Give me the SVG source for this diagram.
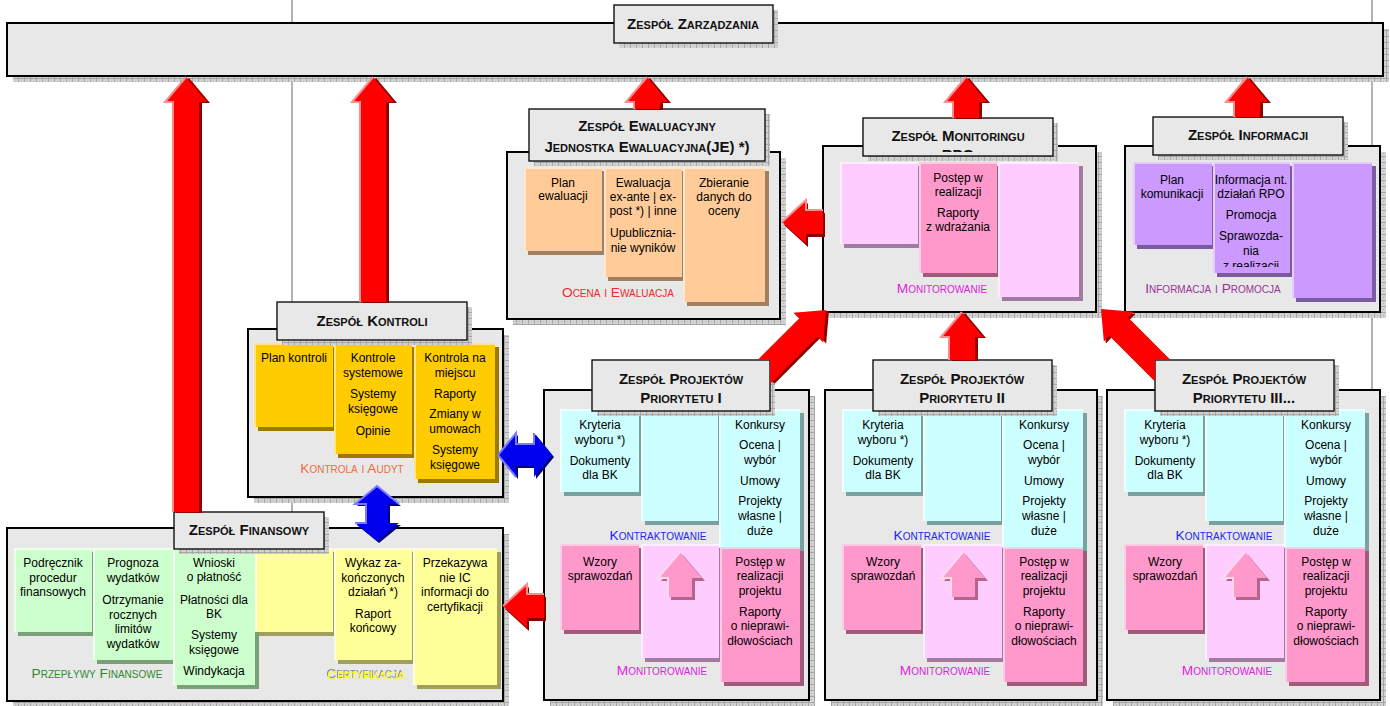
<svg xmlns="http://www.w3.org/2000/svg" xmlns:xlink="http://www.w3.org/1999/xlink" width="1390" height="706" viewBox="0 0 1390 706">
<defs>
<pattern id="chk" width="6" height="6" patternUnits="userSpaceOnUse"><rect width="6" height="6" fill="#d2d2d2"/><rect width="6" height="1" fill="#a6a6a6"/><rect width="1" height="6" fill="#a6a6a6"/><rect x="3" y="3" width="1" height="1" fill="#b4b4b4"/></pattern>
<clipPath id="cRPO"><rect x="864" y="119" width="188" height="33"/></clipPath>
<clipPath id="cI2"><rect x="1213" y="162" width="77" height="105"/></clipPath>
<clipPath id="cD1"><rect x="0" y="0" width="1390" height="360"/><rect x="770" y="0" width="620" height="706"/></clipPath>
<clipPath id="cD3"><rect x="0" y="0" width="1390" height="360"/><rect x="0" y="0" width="1155" height="706"/></clipPath>
<filter id="ghost" x="-10%" y="-40%" width="120%" height="180%"><feFlood flood-color="#8c8c8c"/><feComposite in2="SourceAlpha" operator="in"/><feOffset dx="-1" dy="-2" result="g"/><feMerge><feMergeNode in="g"/><feMergeNode in="SourceGraphic"/></feMerge></filter>
<path id="a1" d="M186 77 L207 102 L199 102 L199 512 L173 512 L173 102 L165 102 Z"/>
<path id="a2" d="M373 77 L394 102 L386 102 L386 302 L360 302 L360 102 L352 102 Z"/>
<path id="a3" d="M647 77 L668 102 L660 102 L660 109 L634 109 L634 102 L626 102 Z"/>
<path id="a4" d="M966 77 L987 102 L979 102 L979 118 L953 118 L953 102 L945 102 Z"/>
<path id="a5" d="M1247 77 L1268 102 L1260 102 L1260 117 L1234 117 L1234 102 L1226 102 Z"/>
<path id="a6" d="M962 312 L983 337 L975 337 L975 360 L949 360 L949 337 L941 337 Z"/>
<path id="a7" d="M782 222 L806 200 L806 210 L823 210 L823 234 L806 234 L806 244 Z"/>
<path id="a8" d="M503 606 L527 584 L527 594 L544 594 L544 618 L527 618 L527 628 Z"/>
<path id="dg" d="M0 0 L21 25 L13 25 L13 90 L-13 90 L-13 25 L-21 25 Z"/>
<path id="b1" d="M498 455 L516 433 L516 444 L534 444 L534 433 L552 455 L534 477 L534 466 L516 466 L516 477 Z"/>
<path id="b2" d="M377 486 L399 504 L388 504 L388 523 L399 523 L377 541 L355 523 L366 523 L366 504 L355 504 Z"/>
</defs>
<style>
.chk{fill:url(#chk)}
.box{fill:#e8e8e8;stroke:#000;stroke-width:2}
.tb{fill:#e8e8e8;stroke:#000;stroke-width:1.3}
.vl{stroke:#999;stroke-width:1.5}
.t{font-family:"Liberation Sans",Arial,sans-serif;font-size:12px;text-anchor:middle;fill:#000}
.h{font-family:"Liberation Sans",Arial,sans-serif;font-size:15px;font-weight:bold;font-variant:small-caps;text-anchor:middle;fill:#111}
.l{font-family:"Liberation Sans",Arial,sans-serif;font-size:13.7px;font-variant:small-caps;text-anchor:middle}
.ys{fill:#9c7a00}.yh{fill:#ffe680}.ym{fill:#ffcc00}
.os{fill:#a08060}.oh{fill:#ffe6cc}.om{fill:#ffcc99}
.ls{fill:#a07aa0}.lh{fill:#ffeeff}.lm{fill:#ffccff}
.ps{fill:#a05a7a}.ph{fill:#ffcce6}.pm{fill:#ff99cc}
.us{fill:#7a5aa0}.uh{fill:#e6ccff}.um{fill:#cc99ff}
.cs{fill:#7aa0a0}.ch{fill:#eeffff}.cm{fill:#ccffff}
.gs{fill:#7aa07a}.gh{fill:#eeffee}.gm{fill:#ccffcc}
.ws{fill:#a0a05a}.wh{fill:#ffffdd}.wm{fill:#ffff99}
.ra{fill:#ff0000}.rs{fill:#8c0000}.rh{fill:none;stroke:#ff8c8c;stroke-width:2}
.ba{fill:#0000ee}.bs{fill:#00007a}.bh{fill:none;stroke:#7a7aff;stroke-width:2}
.pa{fill:#ff99cc}.pas{fill:#b3668c}.pah{fill:none;stroke:#ffd9ec;stroke-width:2}
</style>
<rect width="1390" height="706" fill="#fff"/>
<line class="vl" x1="292" y1="0" x2="292" y2="706"/>
<line class="vl" x1="1372" y1="0" x2="1372" y2="706"/>

<g id="zarzadzanie">
<rect class="chk" x="13" y="29" width="1376" height="53"/>
<rect class="box" x="7" y="23" width="1376" height="53"/>
<rect class="chk" x="619" y="10" width="159" height="38"/>
<rect class="tb" x="614" y="5" width="159" height="38"/>
<text class="h" x="693" y="29">Zespół Zarządzania</text>
</g>

<g id="ewaluacja">
<rect class="chk" x="513" y="158" width="273" height="167"/>
<rect class="box" x="507" y="152" width="273" height="167"/>
<rect class="os" x="528" y="171" width="78" height="84"/><rect class="oh" x="524" y="167" width="78" height="84"/><rect class="om" x="526" y="169" width="76" height="82"/>
<rect class="os" x="608" y="171" width="78" height="110"/><rect class="oh" x="604" y="167" width="78" height="110"/><rect class="om" x="606" y="169" width="76" height="108"/>
<rect class="os" x="687" y="171" width="82" height="135"/><rect class="oh" x="683" y="167" width="82" height="135"/><rect class="om" x="685" y="169" width="80" height="133"/>
<rect class="chk" x="534" y="114" width="236" height="52"/>
<rect class="tb" x="529" y="109" width="236" height="52"/>
<text class="h" x="647" y="131">Zespół Ewaluacyjny</text>
<text class="h" x="647" y="152">Jednostka Ewaluacyjna(JE) *)</text>
<text class="t" x="563" y="187">Plan</text>
<text class="t" x="563" y="200">ewaluacji</text>
<text class="t" x="643" y="187">Ewaluacja</text>
<text class="t" x="643" y="201">ex-ante | ex-</text>
<text class="t" x="643" y="215">post *) | inne</text>
<text class="t" x="643" y="237">Upublicznia-</text>
<text class="t" x="643" y="252">nie wyników</text>
<text class="t" x="724" y="187">Zbieranie</text>
<text class="t" x="724" y="201">danych do</text>
<text class="t" x="724" y="215">oceny</text>
<text class="l" x="618" y="297" fill="#ee2a2a">Ocena i Ewaluacja</text>
</g>

<g id="monitoring">
<rect class="chk" x="829" y="152" width="273" height="166"/>
<rect class="box" x="823" y="146" width="273" height="166"/>
<rect class="ls" x="844" y="166" width="78" height="82"/><rect class="lh" x="840" y="162" width="78" height="82"/><rect class="lm" x="842" y="164" width="76" height="80"/>
<rect class="ps" x="923" y="166" width="78" height="111"/><rect class="ph" x="919" y="162" width="78" height="111"/><rect class="pm" x="921" y="164" width="76" height="109"/>
<rect class="ls" x="1002" y="166" width="81" height="135"/><rect class="lh" x="998" y="162" width="81" height="135"/><rect class="lm" x="1000" y="164" width="79" height="133"/>
<rect class="chk" x="868" y="123" width="190" height="38"/>
<rect class="tb" x="863" y="118" width="190" height="38"/>
<text class="h" x="958" y="141">Zespół Monitoringu</text>
<text class="h" x="958" y="160" clip-path="url(#cRPO)">RPO</text>
<text class="t" x="958" y="182">Postęp w</text>
<text class="t" x="958" y="196">realizacji</text>
<text class="t" x="958" y="217">Raporty</text>
<text class="t" x="958" y="231">z wdrażania</text>
<text class="l" x="942" y="293" fill="#e020e0">Monitorowanie</text>
</g>

<g id="informacja">
<rect class="chk" x="1131" y="152" width="255" height="166"/>
<rect class="box" x="1125" y="146" width="255" height="166"/>
<rect class="us" x="1137" y="166" width="79" height="83"/><rect class="uh" x="1133" y="162" width="79" height="83"/><rect class="um" x="1135" y="164" width="77" height="81"/>
<rect class="us" x="1217" y="166" width="77" height="111"/><rect class="uh" x="1213" y="162" width="77" height="111"/><rect class="um" x="1215" y="164" width="75" height="109"/>
<rect class="us" x="1296" y="166" width="80" height="136"/><rect class="uh" x="1292" y="162" width="80" height="136"/><rect class="um" x="1294" y="164" width="78" height="134"/>
<rect class="chk" x="1158" y="122" width="190" height="38"/>
<rect class="tb" x="1153" y="117" width="190" height="38"/>
<text class="h" x="1248" y="140">Zespół Informacji</text>
<text class="t" x="1172" y="184">Plan</text>
<text class="t" x="1172" y="198">komunikacji</text>
<g clip-path="url(#cI2)">
<text class="t" x="1251" y="184">Informacja nt.</text>
<text class="t" x="1251" y="198">działań RPO</text>
<text class="t" x="1251" y="219">Promocja</text>
<text class="t" x="1251" y="240">Sprawozda-</text>
<text class="t" x="1251" y="255">nia</text>
<text class="t" x="1251" y="270">z realizacji</text>
</g>
<text class="l" x="1213" y="293" fill="#993399">Informacja i Promocja</text>
</g>

<g id="kontrola">
<rect class="chk" x="254" y="335" width="255" height="168"/>
<rect class="box" x="248" y="329" width="255" height="168"/>
<rect class="ys" x="258" y="347" width="79" height="84"/><rect class="yh" x="254" y="343" width="79" height="84"/><rect class="ym" x="256" y="345" width="77" height="82"/>
<rect class="ys" x="338" y="347" width="78" height="111"/><rect class="yh" x="334" y="343" width="78" height="111"/><rect class="ym" x="336" y="345" width="76" height="109"/>
<rect class="ys" x="418" y="347" width="81" height="136"/><rect class="yh" x="414" y="343" width="81" height="136"/><rect class="ym" x="416" y="345" width="79" height="134"/>
<rect class="chk" x="282" y="307" width="190" height="38"/>
<rect class="tb" x="277" y="302" width="190" height="38"/>
<text class="h" x="372" y="326">Zespół Kontroli</text>
<text class="t" x="294" y="362">Plan kontroli</text>
<text class="t" x="373" y="362">Kontrole</text>
<text class="t" x="373" y="377">systemowe</text>
<text class="t" x="373" y="398">Systemy</text>
<text class="t" x="373" y="413">księgowe</text>
<text class="t" x="373" y="435">Opinie</text>
<text class="t" x="455" y="362">Kontrola na</text>
<text class="t" x="455" y="377">miejscu</text>
<text class="t" x="455" y="398">Raporty</text>
<text class="t" x="455" y="418">Zmiany w</text>
<text class="t" x="455" y="433">umowach</text>
<text class="t" x="455" y="454">Systemy</text>
<text class="t" x="455" y="469">księgowe</text>
<text class="l" x="352" y="473" fill="#f26c3c">Kontrola i Audyt</text>
</g>

<g id="finansowy">
<rect class="chk" x="13" y="534" width="496" height="173"/>
<rect class="box" x="7" y="528" width="496" height="173"/>
<rect class="gs" x="18" y="552" width="78" height="84"/><rect class="gh" x="14" y="548" width="78" height="84"/><rect class="gm" x="16" y="550" width="76" height="82"/>
<rect class="gs" x="97" y="552" width="80" height="112"/><rect class="gh" x="93" y="548" width="80" height="112"/><rect class="gm" x="95" y="550" width="78" height="110"/>
<rect class="gs" x="177" y="552" width="82" height="137"/><rect class="gh" x="173" y="548" width="82" height="137"/><rect class="gm" x="175" y="550" width="80" height="135"/>
<rect class="ws" x="259" y="552" width="78" height="84"/><rect class="wh" x="255" y="548" width="78" height="84"/><rect class="wm" x="257" y="550" width="76" height="82"/>
<rect class="ws" x="338" y="552" width="78" height="112"/><rect class="wh" x="334" y="548" width="78" height="112"/><rect class="wm" x="336" y="550" width="76" height="110"/>
<rect class="ws" x="417" y="552" width="84" height="137"/><rect class="wh" x="413" y="548" width="84" height="137"/><rect class="wm" x="415" y="550" width="82" height="135"/>
<rect class="chk" x="179" y="517" width="150" height="37"/>
<rect class="tb" x="174" y="512" width="150" height="37"/>
<text class="h" x="249" y="535">Zespół Finansowy</text>
<text class="t" x="53" y="567">Podręcznik</text>
<text class="t" x="53" y="582">procedur</text>
<text class="t" x="53" y="596">finansowych</text>
<text class="t" x="133" y="567">Prognoza</text>
<text class="t" x="133" y="582">wydatków</text>
<text class="t" x="133" y="604">Otrzymanie</text>
<text class="t" x="133" y="619">rocznych</text>
<text class="t" x="133" y="633">limitów</text>
<text class="t" x="133" y="648">wydatków</text>
<text class="t" x="214" y="567">Wnioski</text>
<text class="t" x="214" y="581">o płatność</text>
<text class="t" x="214" y="604">Płatności dla</text>
<text class="t" x="214" y="618">BK</text>
<text class="t" x="214" y="639">Systemy</text>
<text class="t" x="214" y="654">księgowe</text>
<text class="t" x="214" y="675">Windykacja</text>
<text class="t" x="373" y="567">Wykaz za-</text>
<text class="t" x="373" y="582">kończonych</text>
<text class="t" x="373" y="596">działań *)</text>
<text class="t" x="373" y="618">Raport</text>
<text class="t" x="373" y="632">końcowy</text>
<text class="t" x="455" y="567">Przekazywa</text>
<text class="t" x="455" y="582">nie IC</text>
<text class="t" x="455" y="596">informacji do</text>
<text class="t" x="455" y="611">certyfikacji</text>
<text class="l" x="97" y="678" fill="#2e8b2e">Przepływy Finansowe</text>
<text class="l" x="366" y="680" fill="#ffff00" filter="url(#ghost)">Certyfikacja</text>
</g>

<g id="priorytet1" transform="translate(544,0)">
<rect class="chk" x="6" y="396" width="265" height="310"/>
<rect class="box" x="0" y="390" width="265" height="310"/>
<rect class="cs" x="20" y="413" width="79" height="83"/><rect class="ch" x="16" y="409" width="79" height="83"/><rect class="cm" x="18" y="411" width="77" height="81"/>
<rect class="cs" x="101" y="413" width="77" height="112"/><rect class="ch" x="97" y="409" width="77" height="112"/><rect class="cm" x="99" y="411" width="75" height="110"/>
<rect class="cs" x="179" y="413" width="81" height="138"/><rect class="ch" x="175" y="409" width="81" height="138"/><rect class="cm" x="177" y="411" width="79" height="136"/>
<rect class="ps" x="20" y="548" width="79" height="86"/><rect class="ph" x="16" y="544" width="79" height="86"/><rect class="pm" x="18" y="546" width="77" height="84"/>
<rect class="ls" x="101" y="548" width="78" height="114"/><rect class="lh" x="97" y="544" width="78" height="114"/><rect class="lm" x="99" y="546" width="76" height="112"/>
<rect class="ps" x="180" y="551" width="80" height="135"/><rect class="ph" x="176" y="547" width="80" height="135"/><rect class="pm" x="178" y="549" width="78" height="133"/>
<path class="pas" d="M139 555 L161 581 L151 581 L151 600 L127 600 L127 581 L117 581 Z"/>
<path class="pa" d="M136 552 L158 578 L148 578 L148 597 L124 597 L124 578 L114 578 Z"/>
<polyline class="pah" points="124,597 124,578 114,578 136,552"/>
<rect class="chk" x="53" y="365" width="178" height="51"/>
<rect class="tb" x="48" y="360" width="178" height="51"/>
<text class="h" x="137" y="384">Zespół Projektów</text>
<text class="h" x="137" y="403">Priorytetu I</text>
<text class="t" x="56" y="429">Kryteria</text>
<text class="t" x="56" y="444">wyboru *)</text>
<text class="t" x="56" y="465">Dokumenty</text>
<text class="t" x="56" y="479">dla BK</text>
<text class="t" x="216" y="429">Konkursy</text>
<text class="t" x="216" y="449">Ocena |</text>
<text class="t" x="216" y="464">wybór</text>
<text class="t" x="216" y="485">Umowy</text>
<text class="t" x="216" y="505">Projekty</text>
<text class="t" x="216" y="520">własne |</text>
<text class="t" x="216" y="535">duże</text>
<text class="l" x="114" y="540" fill="#2424ee">Kontraktowanie</text>
<text class="t" x="56" y="566">Wzory</text>
<text class="t" x="56" y="580">sprawozdań</text>
<text class="t" x="216" y="566">Postęp w</text>
<text class="t" x="216" y="580">realizacji</text>
<text class="t" x="216" y="595">projektu</text>
<text class="t" x="216" y="616">Raporty</text>
<text class="t" x="216" y="630">o nieprawi-</text>
<text class="t" x="216" y="645">dłowościach</text>
<text class="l" x="118" y="675" fill="#e020e0">Monitorowanie</text>
</g>

<g id="priorytet2" transform="translate(825,0)">
<rect class="chk" x="6" y="396" width="272" height="310"/>
<rect class="box" x="0" y="390" width="272" height="310"/>
<rect class="cs" x="21" y="413" width="79" height="83"/><rect class="ch" x="17" y="409" width="79" height="83"/><rect class="cm" x="19" y="411" width="77" height="81"/>
<rect class="cs" x="102" y="413" width="78" height="112"/><rect class="ch" x="98" y="409" width="78" height="112"/><rect class="cm" x="100" y="411" width="76" height="110"/>
<rect class="cs" x="181" y="413" width="81" height="138"/><rect class="ch" x="177" y="409" width="81" height="138"/><rect class="cm" x="179" y="411" width="79" height="136"/>
<rect class="ps" x="21" y="548" width="79" height="86"/><rect class="ph" x="17" y="544" width="79" height="86"/><rect class="pm" x="19" y="546" width="77" height="84"/>
<rect class="ls" x="102" y="548" width="79" height="114"/><rect class="lh" x="98" y="544" width="79" height="114"/><rect class="lm" x="100" y="546" width="77" height="112"/>
<rect class="ps" x="182" y="551" width="80" height="135"/><rect class="ph" x="178" y="547" width="80" height="135"/><rect class="pm" x="180" y="549" width="78" height="133"/>
<path class="pas" d="M141 555 L163 581 L153 581 L153 600 L129 600 L129 581 L119 581 Z"/>
<path class="pa" d="M138 552 L160 578 L150 578 L150 597 L126 597 L126 578 L116 578 Z"/>
<polyline class="pah" points="126,597 126,578 116,578 138,552"/>
<rect class="chk" x="53" y="365" width="179" height="51"/>
<rect class="tb" x="48" y="360" width="179" height="51"/>
<text class="h" x="137" y="384">Zespół Projektów</text>
<text class="h" x="137" y="403">Priorytetu II</text>
<text class="t" x="58" y="429">Kryteria</text>
<text class="t" x="58" y="444">wyboru *)</text>
<text class="t" x="58" y="465">Dokumenty</text>
<text class="t" x="58" y="479">dla BK</text>
<text class="t" x="219" y="429">Konkursy</text>
<text class="t" x="219" y="449">Ocena |</text>
<text class="t" x="219" y="464">wybór</text>
<text class="t" x="219" y="485">Umowy</text>
<text class="t" x="219" y="505">Projekty</text>
<text class="t" x="219" y="520">własne |</text>
<text class="t" x="219" y="535">duże</text>
<text class="l" x="117" y="540" fill="#2424ee">Kontraktowanie</text>
<text class="t" x="58" y="566">Wzory</text>
<text class="t" x="58" y="580">sprawozdań</text>
<text class="t" x="219" y="566">Postęp w</text>
<text class="t" x="219" y="580">realizacji</text>
<text class="t" x="219" y="595">projektu</text>
<text class="t" x="219" y="616">Raporty</text>
<text class="t" x="219" y="630">o nieprawi-</text>
<text class="t" x="219" y="645">dłowościach</text>
<text class="l" x="120" y="675" fill="#e020e0">Monitorowanie</text>
</g>

<g id="priorytet3" transform="translate(1107,0)">
<rect class="chk" x="6" y="396" width="273" height="310"/>
<rect class="box" x="0" y="390" width="273" height="310"/>
<rect class="cs" x="21" y="413" width="79" height="83"/><rect class="ch" x="17" y="409" width="79" height="83"/><rect class="cm" x="19" y="411" width="77" height="81"/>
<rect class="cs" x="102" y="413" width="78" height="112"/><rect class="ch" x="98" y="409" width="78" height="112"/><rect class="cm" x="100" y="411" width="76" height="110"/>
<rect class="cs" x="181" y="413" width="81" height="138"/><rect class="ch" x="177" y="409" width="81" height="138"/><rect class="cm" x="179" y="411" width="79" height="136"/>
<rect class="ps" x="21" y="548" width="79" height="86"/><rect class="ph" x="17" y="544" width="79" height="86"/><rect class="pm" x="19" y="546" width="77" height="84"/>
<rect class="ls" x="102" y="548" width="79" height="114"/><rect class="lh" x="98" y="544" width="79" height="114"/><rect class="lm" x="100" y="546" width="77" height="112"/>
<rect class="ps" x="182" y="551" width="80" height="135"/><rect class="ph" x="178" y="547" width="80" height="135"/><rect class="pm" x="180" y="549" width="78" height="133"/>
<path class="pas" d="M141 555 L163 581 L153 581 L153 600 L129 600 L129 581 L119 581 Z"/>
<path class="pa" d="M138 552 L160 578 L150 578 L150 597 L126 597 L126 578 L116 578 Z"/>
<polyline class="pah" points="126,597 126,578 116,578 138,552"/>
<rect class="chk" x="53" y="365" width="179" height="51"/>
<rect class="tb" x="48" y="360" width="179" height="51"/>
<text class="h" x="137" y="384">Zespół Projektów</text>
<text class="h" x="137" y="403">Priorytetu III...</text>
<text class="t" x="58" y="429">Kryteria</text>
<text class="t" x="58" y="444">wyboru *)</text>
<text class="t" x="58" y="465">Dokumenty</text>
<text class="t" x="58" y="479">dla BK</text>
<text class="t" x="219" y="429">Konkursy</text>
<text class="t" x="219" y="449">Ocena |</text>
<text class="t" x="219" y="464">wybór</text>
<text class="t" x="219" y="485">Umowy</text>
<text class="t" x="219" y="505">Projekty</text>
<text class="t" x="219" y="520">własne |</text>
<text class="t" x="219" y="535">duże</text>
<text class="l" x="117" y="540" fill="#2424ee">Kontraktowanie</text>
<text class="t" x="58" y="566">Wzory</text>
<text class="t" x="58" y="580">sprawozdań</text>
<text class="t" x="219" y="566">Postęp w</text>
<text class="t" x="219" y="580">realizacji</text>
<text class="t" x="219" y="595">projektu</text>
<text class="t" x="219" y="616">Raporty</text>
<text class="t" x="219" y="630">o nieprawi-</text>
<text class="t" x="219" y="645">dłowościach</text>
<text class="l" x="120" y="675" fill="#e020e0">Monitorowanie</text>
</g>

<g id="connectors">
<g id="fin-zarz"><use href="#a1" class="rs" transform="translate(3,1)"/><use href="#a1" class="ra"/><polyline class="rh" points="173,512 173,102 165,102 186,77"/></g>
<g id="kontr-zarz"><use href="#a2" class="rs" transform="translate(3,1)"/><use href="#a2" class="ra"/><polyline class="rh" points="360,302 360,102 352,102 373,77"/></g>
<g id="ewal-zarz"><use href="#a3" class="rs" transform="translate(3,1)"/><use href="#a3" class="ra"/><polyline class="rh" points="634,109 634,102 626,102 647,77"/></g>
<g id="mon-zarz"><use href="#a4" class="rs" transform="translate(3,1)"/><use href="#a4" class="ra"/><polyline class="rh" points="953,118 953,102 945,102 966,77"/></g>
<g id="inf-zarz"><use href="#a5" class="rs" transform="translate(3,1)"/><use href="#a5" class="ra"/><polyline class="rh" points="1234,117 1234,102 1226,102 1247,77"/></g>
<g id="p2-mon"><use href="#a6" class="rs" transform="translate(3,1)"/><use href="#a6" class="ra"/><polyline class="rh" points="949,360 949,337 941,337 962,312"/></g>
<g id="mon-ewal"><use href="#a7" class="rs" transform="translate(2,3)"/><use href="#a7" class="ra"/><polyline class="rh" points="782,222 806,200 806,210 823,210"/></g>
<g id="p1-fin"><use href="#a8" class="rs" transform="translate(2,3)"/><use href="#a8" class="ra"/><polyline class="rh" points="503,606 527,584 527,594 544,594"/></g>
<g id="p1-mon" clip-path="url(#cD1)"><use href="#dg" class="rs" transform="translate(829,311) rotate(45)"/><use href="#dg" class="ra" transform="translate(826,310) rotate(45)"/></g>
<g id="p3-mon" clip-path="url(#cD3)"><use href="#dg" class="rs" transform="translate(1103,311) rotate(-45)"/><use href="#dg" class="ra" transform="translate(1101,309) rotate(-45)"/></g>
<g id="kontr-p1"><use href="#b1" class="bs" transform="translate(2,2)"/><use href="#b1" class="ba"/><polyline class="bh" points="516,477 498,455 516,433 516,444 534,444 534,433"/></g>
<g id="kontr-fin"><use href="#b2" class="bs" transform="translate(2,2)"/><use href="#b2" class="ba"/><polyline class="bh" points="355,523 366,523 366,504 355,504 377,486 399,504"/></g>
</g>
</svg>
